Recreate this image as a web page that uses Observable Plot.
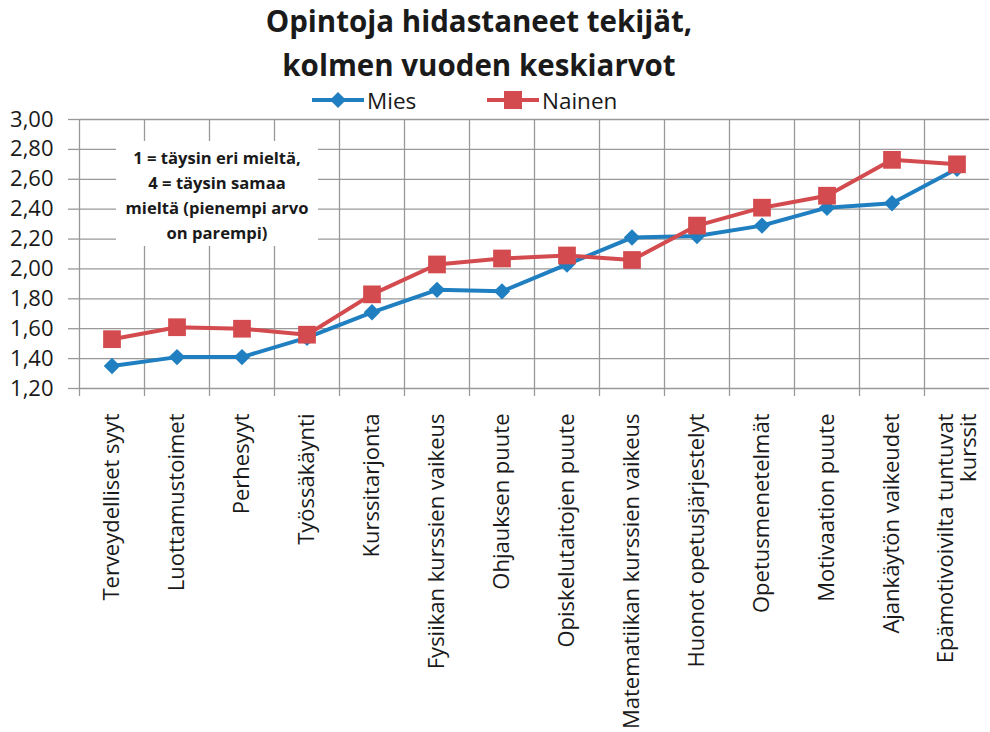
<!DOCTYPE html>
<html>
<head>
<meta charset="utf-8">
<script src="https://cdn.jsdelivr.net/npm/d3@7"></script>
<script src="https://cdn.jsdelivr.net/npm/@observablehq/plot@0.6"></script>
<style>
  html, body { margin: 0; padding: 0; background: #fff; overflow: hidden; }
  #wrap { position: relative; width: 990px; height: 732px; font-family: "Open Sans", Lato, sans-serif; color: #1a1a1a; }
  #header { position: relative; width: 990px; height: 100px; }
  .t { position: absolute; left: 0; width: 958px; text-align: center; font-weight: bold; font-size: 29.5px; line-height: 40px; }
  #legend { position: absolute; top: 88px; left: 0; width: 990px; height: 24px; font-size: 22.5px; z-index: 2; }
  .li { position: absolute; top: 0; display: flex; align-items: center; height: 24px; }
  .li svg { margin-right: 3px; }
  #note { position: absolute; left: 116px; top: 141px; width: 202px; height: 105px; background: #fff;
          font-weight: bold; font-size: 16.6px; line-height: 25px; text-align: center; padding-top: 4px; box-sizing: border-box; }
</style>
</head>
<body>
<div id="wrap">
  <div id="header">
    <div class="t" style="top:1px">Opintoja hidastaneet tekijät,</div>
    <div class="t" style="top:45px">kolmen vuoden keskiarvot</div>
  </div>
  <div id="legend"></div>
  <div id="chart"></div>
  <div id="note">1 = täysin eri mieltä,<br>4 = täysin samaa<br>mieltä (pienempi arvo<br>on parempi)</div>
</div>
<script>
const categories = [
  "Terveydelliset syyt", "Luottamustoimet", "Perhesyyt", "Työssäkäynti",
  "Kurssitarjonta", "Fysiikan kurssien vaikeus", "Ohjauksen puute",
  "Opiskelutaitojen puute", "Matematiikan kurssien vaikeus",
  "Huonot opetusjärjestelyt", "Opetusmenetelmät", "Motivaation puute",
  "Ajankäytön vaikeudet", "Epämotivoivilta tuntuvat\nkurssit"
];
const mies   = [1.35, 1.41, 1.41, 1.54, 1.71, 1.86, 1.85, 2.03, 2.21, 2.22, 2.29, 2.41, 2.44, 2.67];
const nainen = [1.53, 1.61, 1.60, 1.56, 1.83, 2.03, 2.07, 2.09, 2.06, 2.29, 2.41, 2.49, 2.73, 2.70];
const yTicks = [1.2, 1.4, 1.6, 1.8, 2.0, 2.2, 2.4, 2.6, 2.8, 3.0];
const seriesNames = ["Mies", "Nainen"];
const seriesColors = ["#1f7fc0", "#d34b4f"];

const idx = categories.map((_, i) => i);
const boundaries = idx.map(i => i - 0.5);
const rowsM = idx.map(i => ({i, v: mies[i]}));
const rowsN = idx.map(i => ({i, v: nainen[i]}));
const fmt = v => d3.format(".2f")(v).replace(".", ",");
const grid = "#999999";

const chart = Plot.plot({
  width: 990,
  height: 632,
  marginTop: 19,
  marginLeft: 79,
  marginRight: 1,
  marginBottom: 344,
  style: {fontFamily: "'Open Sans', Lato, sans-serif", color: "#1a1a1a", background: "#fff"},
  x: {type: "linear", domain: [-0.5, categories.length - 0.5]},
  y: {domain: [1.2, 3.0]},
  marks: [
    Plot.gridY(yTicks, {stroke: grid, strokeOpacity: 1, strokeWidth: 1.3}),
    Plot.ruleX(boundaries, {stroke: grid, strokeWidth: 1.3}),
    Plot.axisY(yTicks, {tickSize: 11, tickPadding: 15, tickFormat: fmt, fontSize: 22, stroke: grid, strokeWidth: 1.3, label: null}),
    Plot.axisX(boundaries, {tickSize: 8, tickFormat: () => "", stroke: grid, strokeWidth: 1.3, label: null}),
    Plot.axisX(idx, {tickSize: 0, tickPadding: 25, tickRotate: -90, fontSize: 22, lineHeight: 1.05, tickFormat: i => categories[i], label: null}),
    Plot.line(rowsM, {x: "i", y: "v", stroke: seriesColors[0], strokeWidth: 4}),
    Plot.dot(rowsM, {x: "i", y: "v", symbol: "diamond2", r: 7.4, fill: seriesColors[0], stroke: "none"}),
    Plot.line(rowsN, {x: "i", y: "v", stroke: seriesColors[1], strokeWidth: 4}),
    Plot.dot(rowsN, {x: "i", y: "v", symbol: "square", r: 10, fill: seriesColors[1], stroke: "none"})
  ]
});
document.getElementById("chart").appendChild(chart);

// legend
const legend = document.getElementById("legend");
const lefts = [312, 487];
seriesNames.forEach((name, k) => {
  const item = document.createElement("div");
  item.className = "li";
  item.style.left = lefts[k] + "px";
  const sym = k === 0
    ? `<polygon points="26,4 34,12 26,20 18,12" fill="${seriesColors[k]}"/>`
    : `<rect x="17" y="3" width="18" height="18" fill="${seriesColors[k]}"/>`;
  item.innerHTML = `<svg width="52" height="24"><line x1="0" y1="12" x2="52" y2="12" stroke="${seriesColors[k]}" stroke-width="4"/>${sym}</svg><span>${name}</span>`;
  legend.appendChild(item);
});
</script>
</body>
</html>
